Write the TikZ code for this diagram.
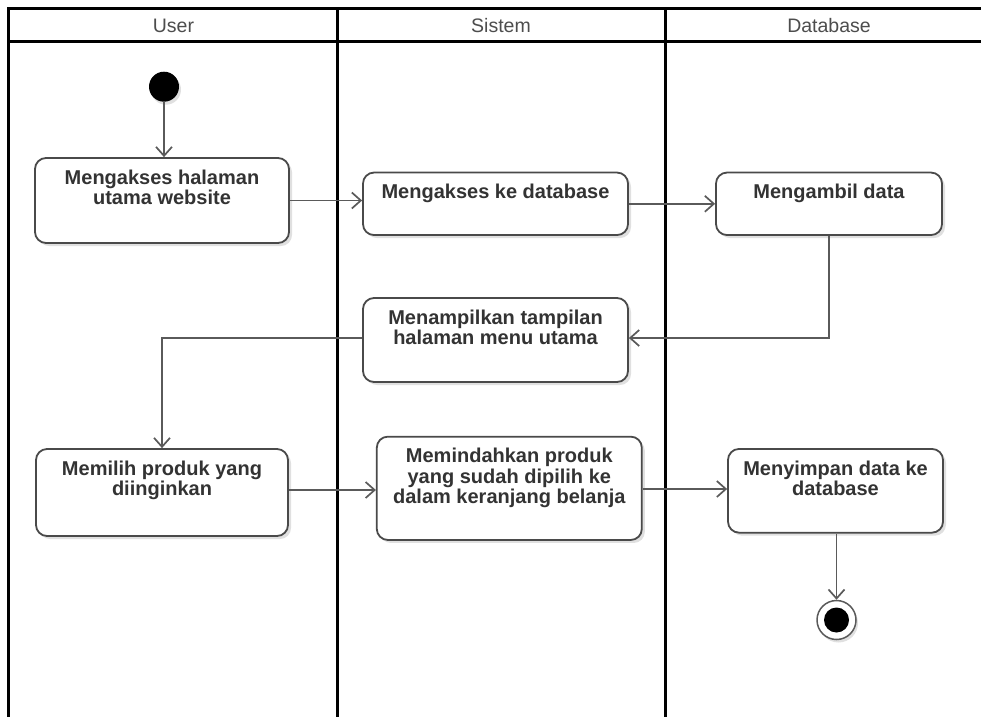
\documentclass[tikz,border=0pt]{standalone}
\usepackage{fontspec}
\setmainfont{Liberation Sans}
\usetikzlibrary{arrows.meta,shadows}

\definecolor{lanec}{HTML}{000000}
\definecolor{boxc}{HTML}{4A4A4A}
\definecolor{linec}{HTML}{5A5A5A}
\definecolor{txtc}{HTML}{333333}
\definecolor{headc}{HTML}{4D4D4D}

\tikzset{
  lane/.style={draw=lanec, line width=3pt},
  headtxt/.style={text=headc, font=\fontsize{19.5}{22}\selectfont, anchor=base, inner sep=0pt},
  actbox/.style={draw=boxc, fill=white, line width=1.8pt, rounded corners=11pt,
    drop shadow={shadow xshift=3pt, shadow yshift=-3pt, opacity=0.12, fill=black}},
  acttxt/.style={text=txtc, font=\bfseries\fontsize{20}{20.5}\selectfont, align=center,
    anchor=north, inner sep=0pt},
  flow/.style={draw=linec, line width=1.7pt, -{Straight Barb[length=9pt,width=16pt]}},
  startdot/.style={circle, fill=black, minimum size=30pt, inner sep=0pt,
    drop shadow={shadow xshift=2pt, shadow yshift=-3pt, opacity=0.12, fill=black}},
  endring/.style={circle, draw=linec, fill=white, line width=1.5pt, minimum size=39pt, inner sep=0pt,
    drop shadow={shadow xshift=2pt, shadow yshift=-3pt, opacity=0.12, fill=black}},
  enddot/.style={circle, fill=black, minimum size=25pt, inner sep=0pt},
}

\begin{document}
\begin{tikzpicture}[x=1pt, y=-1pt]
\useasboundingbox (0,0) rectangle (981,716);
\clip (0,0) rectangle (981,716);
\fill[white] (0,0) rectangle (981,716);

% swimlane frame
\draw[lane] (8.7,730) -- (8.7,8.7) -- (1000,8.7);
\draw[lane] (8.7,41.7) -- (1000,41.7);
\draw[lane] (337.5,8.7) -- (337.5,730);
\draw[lane] (665,8.7) -- (665,730);

% lane titles
\node[headtxt] (hUser) at (173.5,32) {User};
\node[headtxt] (hSistem) at (501,32) {Sistem};
\node[headtxt] (hDb) at (829,32) {Database};

% activities
\node[actbox, minimum width=254pt, minimum height=85pt] (n1) at (162,200.5) {};
\node[acttxt] (t1) at ([yshift=-12.4pt]n1.north) {Mengakses halaman\\utama website};

\node[actbox, minimum width=265pt, minimum height=62.5pt] (n2) at (495.5,203.8) {};
\node[acttxt] (t2) at ([yshift=-12pt]n2.north) {Mengakses ke database};

\node[actbox, minimum width=226pt, minimum height=62.5pt] (n3) at (829,203.8) {};
\node[acttxt] (t3) at ([yshift=-12pt]n3.north) {Mengambil data};

\node[actbox, minimum width=265pt, minimum height=84pt] (n4) at (495.5,340) {};
\node[acttxt] (t4) at ([yshift=-12.4pt]n4.north) {Menampilkan tampilan\\halaman menu utama};

\node[actbox, minimum width=252pt, minimum height=87pt] (n5) at (162,492.5) {};
\node[acttxt] (t5) at ([yshift=-12.4pt]n5.north) {Memilih produk yang\\diinginkan};

\node[actbox, minimum width=265pt, minimum height=103.3pt] (n6) at (509.3,488.3) {};
\node[acttxt] (t6) at ([yshift=-12.4pt]n6.north) {Memindahkan produk\\yang sudah dipilih ke\\dalam keranjang belanja};

\node[actbox, minimum width=215pt, minimum height=83.7pt] (n7) at (835.5,490.8) {};
\node[acttxt] (t7) at ([yshift=-12.7pt]n7.north) {Menyimpan data ke\\database};

% initial and final states
\node[startdot] (start) at (164,86.7) {};
\node[endring] (stop) at (836.5,620) {};
\node[enddot] (stopdot) at (836.5,620) {};

% control flow
\draw[flow] (start.south) -- (start.south |- n1.north);
\draw[flow] (n1.east) -- (n1.east -| n2.west);
\draw[flow] (n2.east) -- (n2.east -| n3.west);
\draw[flow] (n3.south) |- ([yshift=2pt]n4.east);
\draw[flow] ([yshift=2pt]n4.west) -| (n5.north);
\draw[flow] ([yshift=2.5pt]n5.east) -- ([yshift=2.5pt]n5.east -| n6.west);
\draw[flow] ([yshift=-0.7pt]n6.east) -- ([yshift=-0.7pt]n6.east -| n7.west);
\draw[flow] (n7.south -| stop.north) -- (stop.north);
\end{tikzpicture}
\end{document}
